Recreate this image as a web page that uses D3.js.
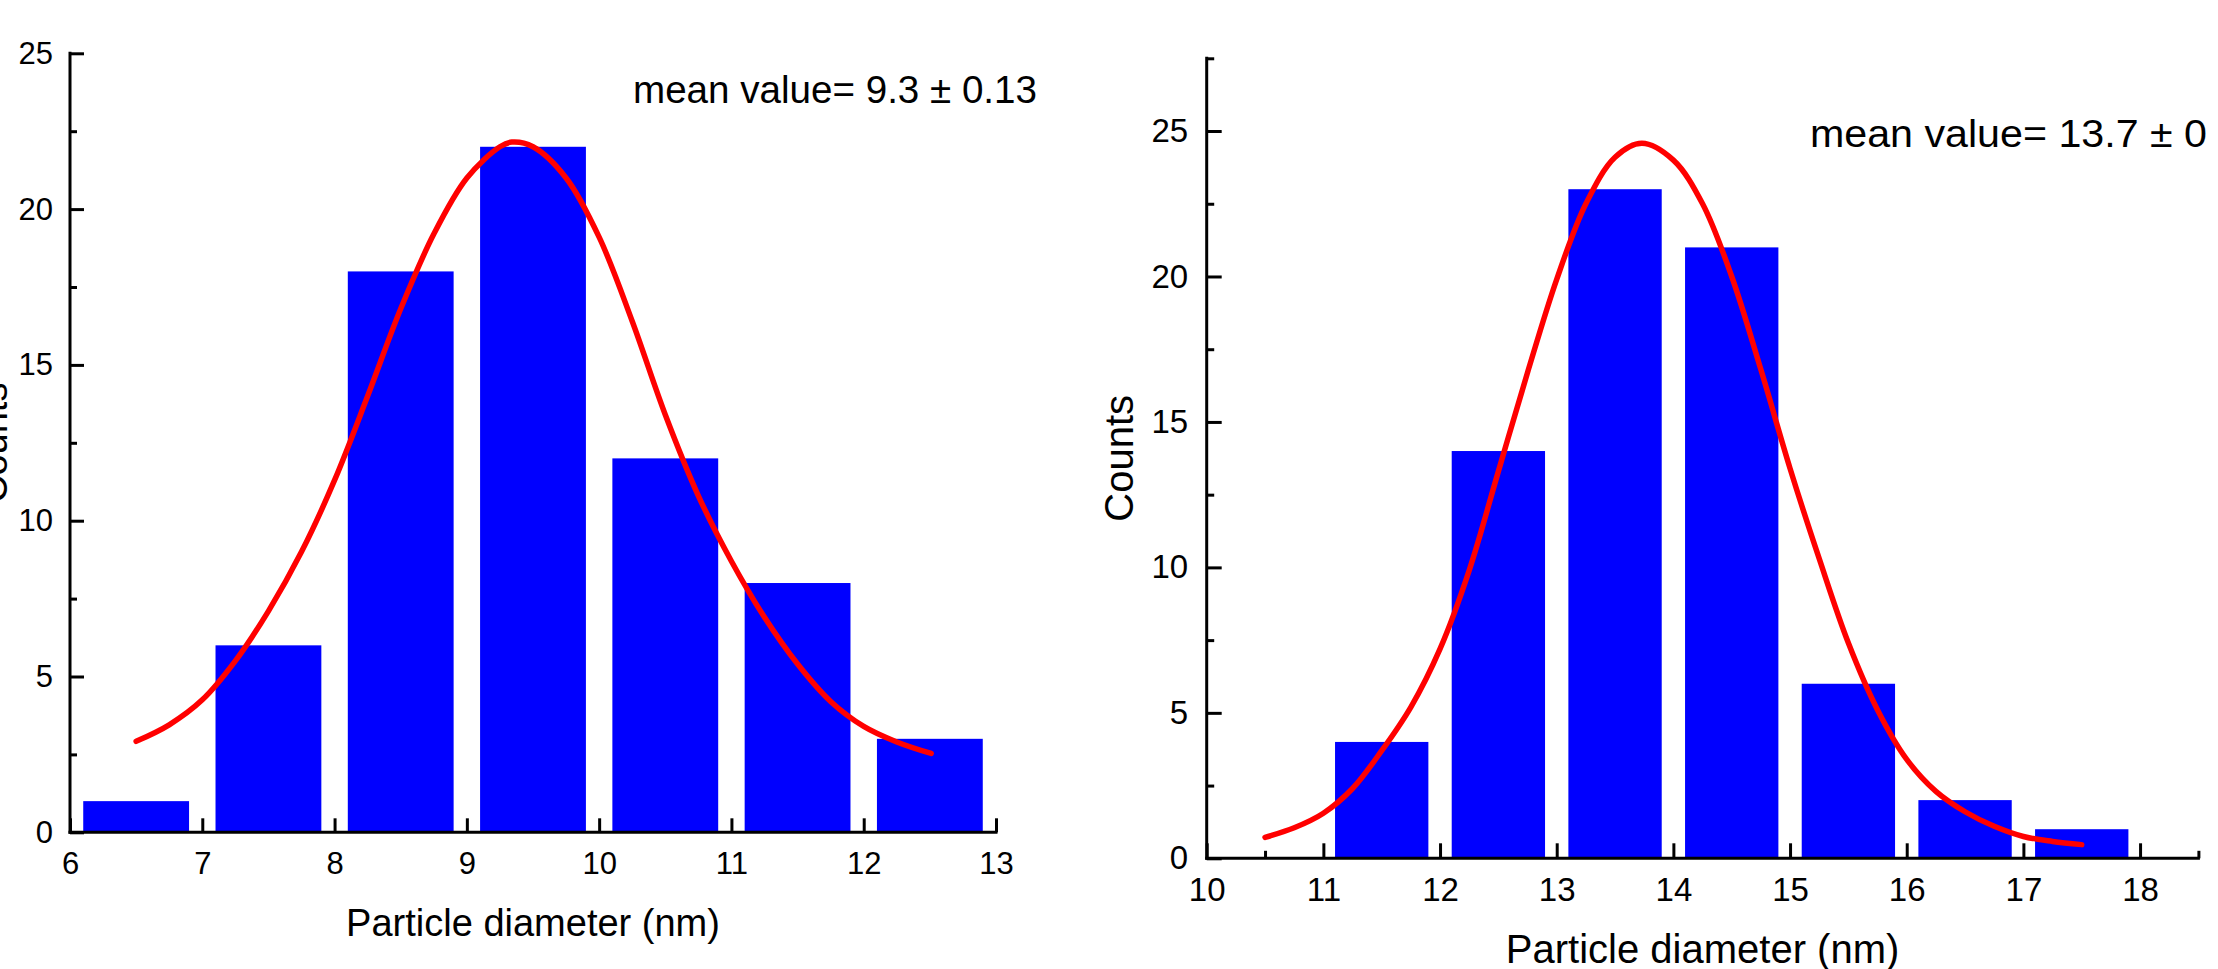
<!DOCTYPE html>
<html>
<head>
<meta charset="utf-8">
<script src="https://cdn.jsdelivr.net/npm/d3@7"></script>
<style>
  html, body { margin: 0; padding: 0; background: #fff; overflow: hidden; }
  svg { display: block; font-family: "Liberation Sans", Arial, Helvetica, sans-serif; }
</style>
</head>
<body>
<svg id="chart" width="2218" height="969"></svg>
<script>
// ---------- DATA ----------
const leftBinCenters = [6.5, 7.5, 8.5, 9.5, 10.5, 11.5, 12.5];
const leftCounts     = [1, 6, 18, 22, 12, 8, 3];
const leftFitX = [6.50, 6.75, 7.00, 7.25, 7.50, 7.75, 8.00, 8.25, 8.50, 8.75, 9.00, 9.25, 9.34, 9.50, 9.75, 10.00, 10.25, 10.50, 10.75, 11.00, 11.25, 11.50, 11.75, 12.00, 12.25, 12.51];
const leftFitY = [2.92, 3.45, 4.25, 5.50, 7.10, 9.00, 11.30, 14.00, 16.80, 19.20, 21.00, 22.00, 22.15, 22.00, 21.00, 19.10, 16.40, 13.40, 10.80, 8.70, 6.90, 5.40, 4.20, 3.40, 2.90, 2.53];
const leftXTicks = [6, 7, 8, 9, 10, 11, 12, 13];
const leftYTicks = [0, 5, 10, 15, 20, 25];
const leftYMinor = [2.5, 7.5, 12.5, 17.5, 22.5];
const leftMean = "mean value= 9.3 \u00B1 0.13";

const rightBinCenters = [11.5, 12.5, 13.5, 14.5, 15.5, 16.5, 17.5];
const rightCounts     = [4, 14, 23, 21, 6, 2, 1];
const rightFitX = [10.50, 10.75, 11.00, 11.25, 11.50, 11.75, 12.00, 12.25, 12.50, 12.75, 13.00, 13.25, 13.50, 13.73, 14.00, 14.25, 14.50, 14.75, 15.00, 15.25, 15.50, 15.75, 16.00, 16.25, 16.50, 16.75, 17.00, 17.25, 17.50];
const rightFitY = [0.72, 1.05, 1.55, 2.40, 3.70, 5.20, 7.20, 9.90, 13.30, 16.70, 19.90, 22.50, 24.10, 24.58, 24.00, 22.50, 20.00, 16.80, 13.40, 10.30, 7.40, 5.10, 3.40, 2.30, 1.60, 1.10, 0.75, 0.58, 0.47];
const rightXTicks = [10, 11, 12, 13, 14, 15, 16, 17, 18];
const rightXMinor = [10.5, 11.5, 12.5, 13.5, 14.5, 15.5, 16.5, 17.5, 18.5];
const rightYTicks = [0, 5, 10, 15, 20, 25];
const rightYMinor = [2.5, 7.5, 12.5, 17.5, 22.5, 27.5];
const rightMean = "mean value= 13.7 \u00B1 0";

const xTitle = "Particle diameter (nm)";
const yTitle = "Counts";

// ---------- DRAW ----------
const svg = d3.select("#chart");
const BAR_W = 0.8;

function styleTicks(s, fs) {
  s.attr("font-family", null).attr("font-size", null);
  s.select(".domain").remove();
  s.selectAll("line").attr("stroke", "#000").attr("stroke-width", 3);
  s.selectAll("text").attr("font-size", fs).attr("fill", "#000");
}

function panel(cfg) {
  const x = d3.scaleLinear().domain(cfg.xDomain).range(cfg.xRange);
  const y = d3.scaleLinear().domain(cfg.yDomain).range(cfg.yRange);
  const g = svg.append("g");
  const fs = cfg.tickFont;

  // minor ticks
  if (cfg.xMinor) {
    g.append("g").attr("transform", `translate(0,${y(0)})`)
      .call(d3.axisBottom(x).tickValues(cfg.xMinor).tickFormat("").tickSize(-cfg.minorLen).tickSizeOuter(0))
      .call(s => styleTicks(s, fs));
  }
  g.append("g").attr("transform", `translate(${x(cfg.xDomain[0])},0)`)
    .call(d3.axisLeft(y).tickValues(cfg.yMinor).tickFormat("").tickSize(-cfg.minorLen).tickSizeOuter(0))
    .call(s => styleTicks(s, fs));

  // major ticks
  g.append("g").attr("transform", `translate(0,${y(0)})`)
    .call(d3.axisBottom(x).tickValues(cfg.xTicks).tickFormat(d3.format("d")).tickSize(-cfg.majorLen).tickSizeOuter(0).tickPadding(cfg.xPad))
    .call(s => styleTicks(s, fs));
  g.append("g").attr("transform", `translate(${x(cfg.xDomain[0])},0)`)
    .call(d3.axisLeft(y).tickValues(cfg.yTicks).tickFormat(d3.format("d")).tickSize(-cfg.majorLen).tickSizeOuter(0).tickPadding(cfg.yPad))
    .call(s => styleTicks(s, fs));

  // bars
  g.append("g").selectAll("rect")
    .data(cfg.centers.map((c, i) => ({ c, v: cfg.counts[i] })))
    .join("rect")
    .attr("x", d => x(d.c - BAR_W / 2))
    .attr("width", d => x(d.c + BAR_W / 2) - x(d.c - BAR_W / 2))
    .attr("y", d => y(d.v))
    .attr("height", d => y(0) - y(d.v))
    .attr("fill", "#0000ff");

  // axis lines on top
  g.append("line")
    .attr("x1", x(cfg.xDomain[0])).attr("x2", x(cfg.xDomain[1]))
    .attr("y1", y(0)).attr("y2", y(0))
    .attr("stroke", "#000").attr("stroke-width", 3).attr("stroke-linecap", "square");
  g.append("line")
    .attr("x1", x(cfg.xDomain[0])).attr("x2", x(cfg.xDomain[0]))
    .attr("y1", y(0)).attr("y2", y(cfg.yDomain[1]))
    .attr("stroke", "#000").attr("stroke-width", 3).attr("stroke-linecap", "square");

  // fit curve
  const pts = cfg.fitX.map((v, i) => [v, cfg.fitY[i]]);
  g.append("path")
    .datum(pts)
    .attr("d", d3.line().x(d => x(d[0])).y(d => y(d[1])).curve(d3.curveCatmullRom.alpha(0.5)))
    .attr("fill", "none")
    .attr("stroke", "#ff0000")
    .attr("stroke-width", 5.5)
    .attr("stroke-linecap", "round")
    .attr("stroke-linejoin", "round");

  // titles
  g.append("text")
    .attr("x", (cfg.xRange[0] + cfg.xRange[1]) / 2)
    .attr("y", cfg.xTitleY)
    .attr("text-anchor", "middle")
    .attr("font-size", cfg.titleFont)
    .text(xTitle);
  g.append("text")
    .attr("transform", `translate(${cfg.yTitleX},${(cfg.yRange[0] + cfg.yRange[1]) / 2}) rotate(-90)`)
    .attr("text-anchor", "middle")
    .attr("font-size", cfg.yTitleFont)
    .text(yTitle);

  // mean annotation
  g.append("text")
    .attr("x", cfg.meanX).attr("y", cfg.meanY)
    .attr("font-size", 38)
    .attr("textLength", cfg.meanLen)
    .attr("lengthAdjust", "spacingAndGlyphs")
    .text(cfg.mean);
}

panel({
  xDomain: [6, 13], xRange: [70, 996],
  yDomain: [0, 25], yRange: [832.3, 53.3],
  xTicks: leftXTicks, xMinor: null, yTicks: leftYTicks, yMinor: leftYMinor,
  centers: leftBinCenters, counts: leftCounts,
  fitX: leftFitX, fitY: leftFitY,
  majorLen: 14, minorLen: 7, tickFont: 31, xPad: 20, yPad: 17,
  titleFont: 38, yTitleFont: 38, xTitleY: 936, yTitleX: 7,
  mean: leftMean, meanX: 633, meanY: 103, meanLen: 404
});

panel({
  xDomain: [10, 18.5], xRange: [1206.7, 2198.4],
  yDomain: [0, 27.5], yRange: [858.3, 58.3],
  xTicks: rightXTicks, xMinor: rightXMinor, yTicks: rightYTicks, yMinor: rightYMinor,
  centers: rightBinCenters, counts: rightCounts,
  fitX: rightFitX, fitY: rightFitY,
  majorLen: 15, minorLen: 7.5, tickFont: 33, xPad: 19, yPad: 18.5,
  titleFont: 40, yTitleFont: 40, xTitleY: 963, yTitleX: 1133,
  mean: rightMean, meanX: 1810, meanY: 146.7, meanLen: 397
});
</script>
</body>
</html>
